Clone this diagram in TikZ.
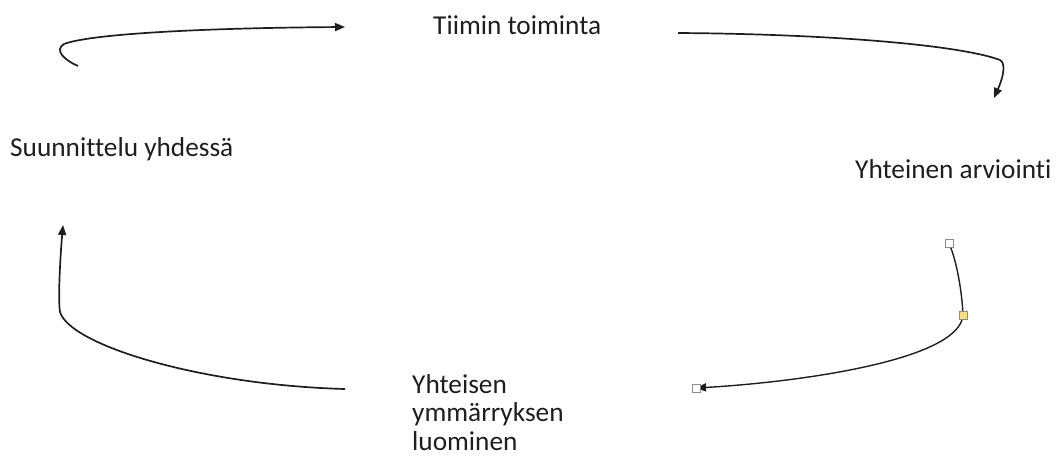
\documentclass[tikz,border=0pt]{standalone}
\usepackage{fontspec}
\setmainfont{Carlito}[Ligatures=NoCommon]
\usetikzlibrary{arrows.meta}
\definecolor{ink}{HTML}{1E1E1E}
\definecolor{handlefill}{HTML}{F9E07A}
\begin{document}
\begin{tikzpicture}[x=1pt,y=-1pt,
  lbl/.style={inner sep=0pt, font=\fontsize{27.3}{28.5}\selectfont, text=ink},
  flow/.style={draw=ink, line width=1.7pt, -{Triangle[length=10pt,width=8pt]}},
  handle/.style={draw=black!45, fill=white, line width=0.8pt, minimum size=8pt, inner sep=0pt},
]
\useasboundingbox (0,0) rectangle (1057,459);

% phase labels
\node[lbl, anchor=base west] (act)  at (433,34)  {Tiimin toiminta};
\node[lbl, anchor=base west] (plan) at (10,156)  {Suunnittelu yhdessä};
\node[lbl, anchor=base west] (eval) at (855,178) {Yhteinen arviointi};
% three-line label: the base anchor sits on the last line
\node[lbl, anchor=base west, align=left] (under) at (412,450)
  {Yhteisen\\ymmärryksen\\luominen};

% connector end points
\coordinate (a0) at (78,66);
\coordinate (a1) at (345,27);
\coordinate (b0) at (678,33);
\coordinate (b1) at (994,98);
\coordinate (c0) at (949,243);
\coordinate (cm) at (963,315);
\coordinate (c1) at (696,388);
\coordinate (d0) at (345,389);
\coordinate (d1) at (63,225);

% cycle arrows
\draw[flow] (a0) .. controls (64,60) and (54,50) .. (64,44)
               .. controls (90,34) and (200,28) .. (a1);
\draw[flow] (b0) .. controls (830,34) and (960,45) .. (1000,60)
               .. controls (1007,64) and (1002,80) .. (b1);
\draw[flow, line width=1.4pt] (c0) .. controls (957,262) and (962,292) .. (cm)
               .. controls (960,360) and (800,382) .. (c1);
\draw[flow] (d0) .. controls (200,385) and (70,345) .. (60,312)
               .. controls (58,300) and (60,260) .. (d1);

% editing handles on the lower right connector
\node[handle] (hs) at (c0) {};
\node[handle, fill=handlefill] (hm) at (cm) {};
\node[handle] (he) at (c1) {};
\end{tikzpicture}
\end{document}
